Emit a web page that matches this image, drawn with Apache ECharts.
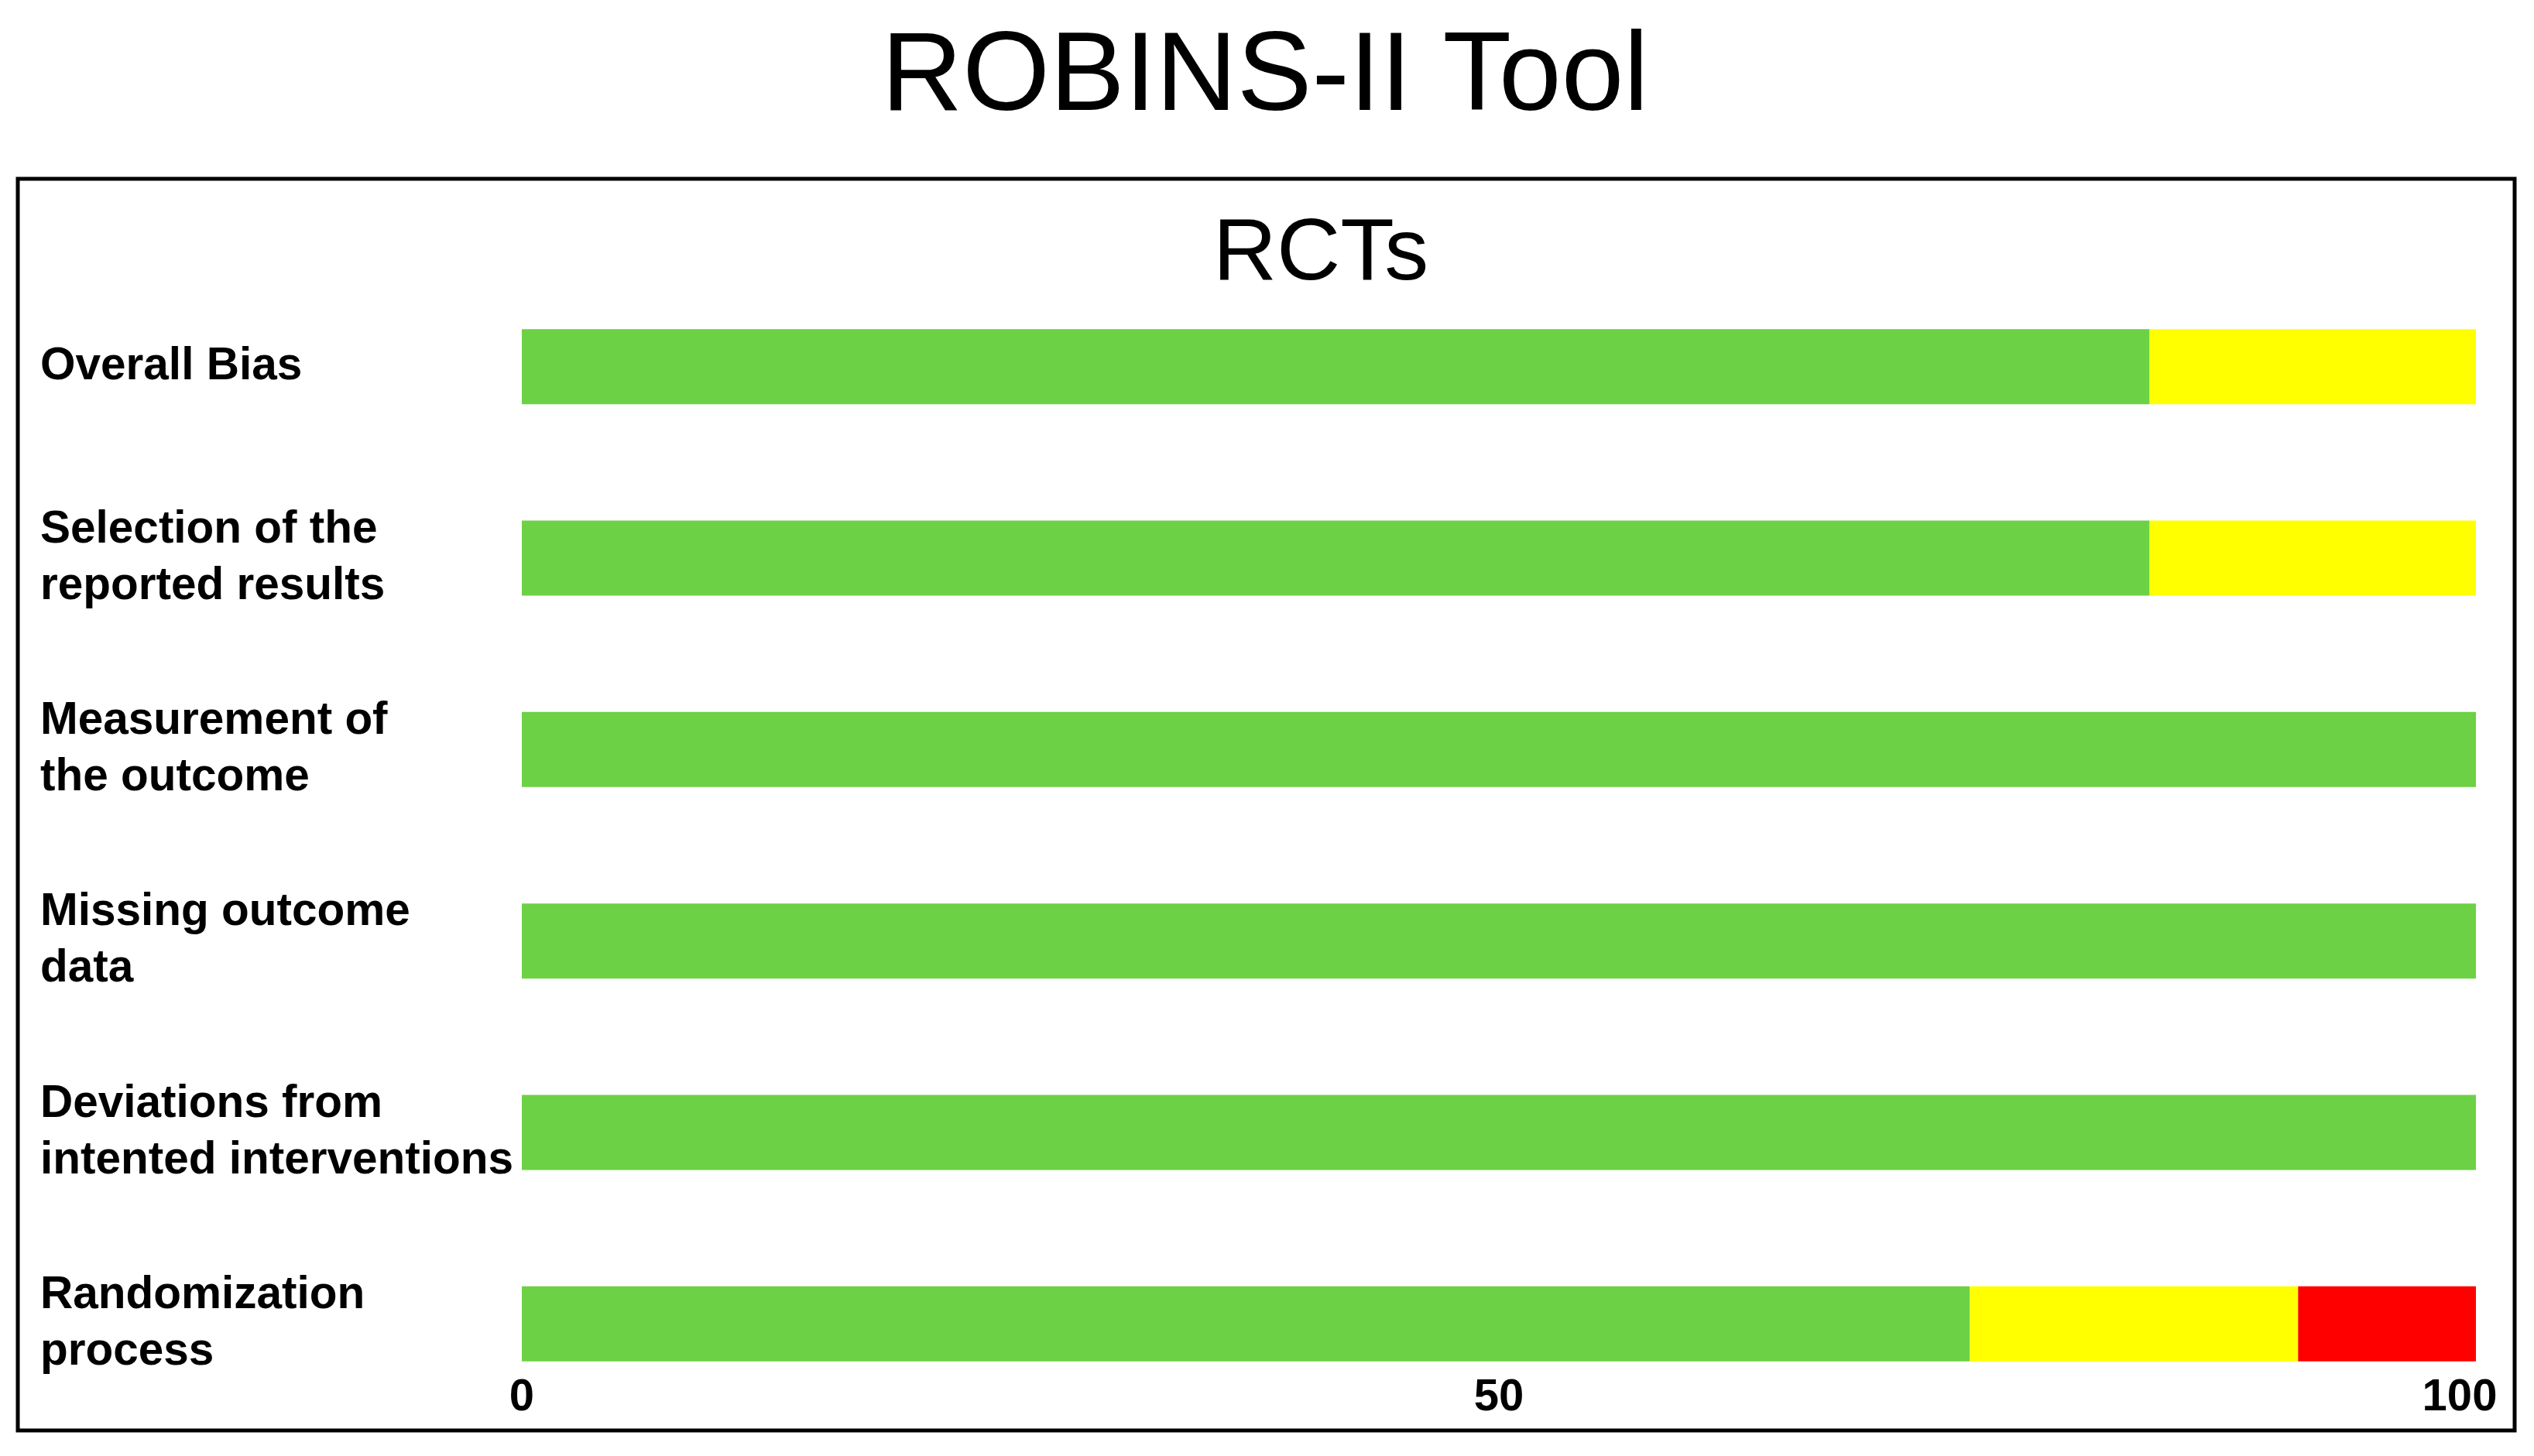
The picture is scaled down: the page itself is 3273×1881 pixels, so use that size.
<!DOCTYPE html>
<html>
<head>
<meta charset="utf-8">
<title>ROBINS-II Tool</title>
<script src="https://cdn.jsdelivr.net/npm/echarts@6/dist/echarts.min.js"></script>
<style>
  html, body { margin: 0; padding: 0; background: #fff; }
  #chart { width: 3273px; height: 1881px; }
</style>
</head>
<body>
<div id="chart"></div>
<script>
// domains, top to bottom
const domains = [
  'Overall Bias',
  'Selection of the\nreported results',
  'Measurement of\nthe outcome',
  'Missing outcome\ndata',
  'Deviations from\nintented interventions',
  'Randomization\nprocess'
]
// percent of studies per judgement
const lowRisk = [83.3, 83.3, 100, 100, 100, 74.1]
const someConcerns = [16.7, 16.7, 0, 0, 0, 16.8]
const highRisk = [0, 0, 0, 0, 0, 9.1]
const xTicks = [0, 50, 100]

const font = 'Liberation Sans, Arial, Helvetica, sans-serif'
const myChart = echarts.init(document.getElementById('chart'))

const makeSeries = (name, color, data) => ({
  name: name,
  type: 'bar',
  stack: 'total',
  barWidth: 97,
  itemStyle: { color: color },
  data: data
})

myChart.setOption({
  backgroundColor: '#fff',
  animation: false,
  graphic: [
    {
      type: 'rect',
      shape: { x: 23, y: 231, width: 3225, height: 1617 },
      style: { fill: 'none', stroke: '#000', lineWidth: 5 },
      z: -1
    },
    {
      type: 'text',
      x: 1634,
      y: 102,
      style: {
        text: 'ROBINS-II Tool',
        font: '145px ' + font,
        fill: '#000',
        textAlign: 'center',
        textVerticalAlign: 'middle'
      }
    },
    {
      type: 'text',
      x: 1706,
      y: 330,
      style: {
        text: 'RCTs',
        font: '114px ' + font,
        fill: '#000',
        textAlign: 'center',
        textVerticalAlign: 'middle'
      }
    }
  ],
  grid: {
    left: 674,
    right: 75,
    top: 350,
    bottom: 47,
    containLabel: false
  },
  xAxis: {
    type: 'value',
    min: xTicks[0],
    max: xTicks[xTicks.length - 1],
    interval: 50,
    axisLine: { show: false },
    axisTick: { show: false },
    splitLine: { show: false },
    axisLabel: {
      margin: -28,
      verticalAlign: 'middle',
      fontFamily: font,
      fontSize: 58,
      fontWeight: 'bold',
      color: '#000',
      // the last tick label sits a little left of the bar end
      formatter: v => v === 100 ? '{r|' + v + '}' : String(v),
      rich: {
        r: {
          fontFamily: font,
          fontSize: 58,
          fontWeight: 'bold',
          color: '#000',
          padding: [0, 42, 0, 0]
        }
      }
    }
  },
  yAxis: {
    type: 'category',
    inverse: true,
    data: domains,
    axisLine: { show: false },
    axisTick: { show: false },
    splitLine: { show: false },
    axisLabel: {
      align: 'left',
      margin: 622,
      fontFamily: font,
      fontSize: 58.5,
      lineHeight: 73,
      fontWeight: 'bold',
      color: '#000'
    }
  },
  series: [
    makeSeries('Low risk', '#6CD144', lowRisk),
    makeSeries('Some concerns', '#FFFF00', someConcerns),
    makeSeries('High risk', '#FF0000', highRisk)
  ]
})
</script>
</body>
</html>
